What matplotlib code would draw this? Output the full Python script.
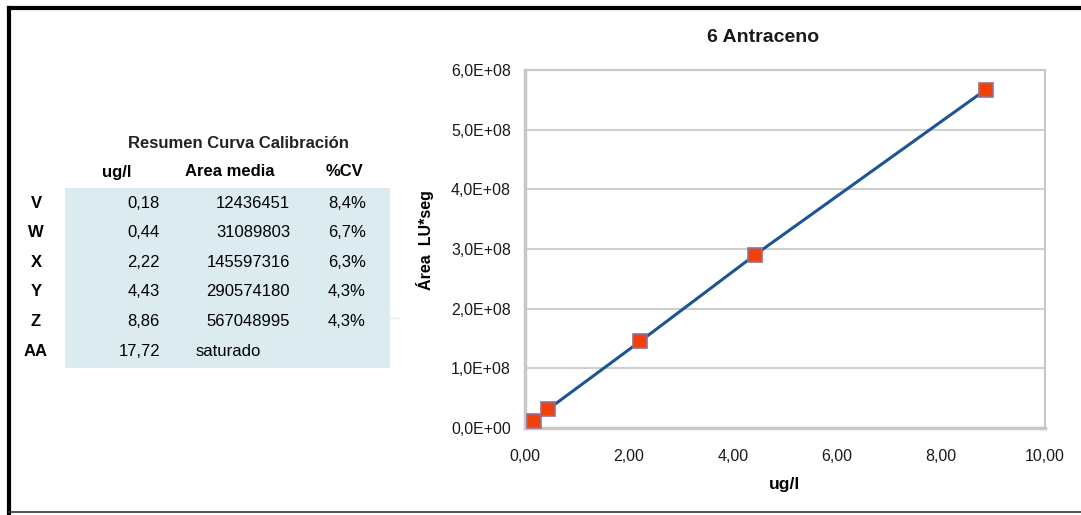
import matplotlib.pyplot as plt
from matplotlib.lines import Line2D
from matplotlib.patches import Rectangle
from matplotlib.ticker import FuncFormatter

plt.rcParams['font.family'] = ['Liberation Sans', 'DejaVu Sans']

# Resumen de la curva de calibracion
niveles = ['V', 'W', 'X', 'Y', 'Z', 'AA']
conc = [0.18, 0.44, 2.22, 4.43, 8.86, 17.72]
area_media = [12436451, 31089803, 145597316, 290574180, 567048995, None]
cv = ['8,4%', '6,7%', '6,3%', '4,3%', '4,3%', '']

x_ticks = [0, 2, 4, 6, 8, 10]
y_ticks = [0, 1e8, 2e8, 3e8, 4e8, 5e8, 6e8]

W, H = 1081, 515
def fx(px):
    return px / W
def fy(py):
    return 1 - py / H

fig = plt.figure(figsize=(10.81, 5.15), dpi=100)

# marco exterior
fig.add_artist(Line2D([fx(9), 1], [fy(8), fy(8)], color='black', lw=3))
fig.add_artist(Line2D([fx(9), fx(9)], [0, fy(8)], color='black', lw=3))
fig.add_artist(Line2D([fx(9), 1], [fy(512), fy(512)], color='#333333', lw=1.2))

# tabla resumen
fig.add_artist(Rectangle((fx(65), fy(368)), fx(390) - fx(65), fy(188) - fy(368),
                         facecolor='#dbebf0', edgecolor='none'))
fig.add_artist(Line2D([fx(390), fx(398)], [fy(318), fy(318)], color='#dbebf0', lw=1))
fig.text(fx(238), fy(144), 'Resumen Curva Calibración', ha='center', va='center',
         fontsize=12, fontweight='bold', color='#222222')
fig.text(fx(117), fy(172), 'ug/l', ha='center', va='center', fontsize=12, fontweight='bold')
fig.text(fx(230), fy(172), 'Area media', ha='center', va='center', fontsize=12, fontweight='bold')
fig.text(fx(345), fy(172), '%CV', ha='center', va='center', fontsize=12, fontweight='bold')

for i, nivel in enumerate(niveles):
    yy = fy(203 + i * 29.6)
    fig.text(fx(36), yy, nivel, ha='center', va='center', fontsize=12, fontweight='bold')
    fig.text(fx(160), yy, f'{conc[i]:.2f}'.replace('.', ','), ha='right', va='center', fontsize=12)
    if area_media[i] is None:
        fig.text(fx(196), yy, 'saturado', ha='left', va='center', fontsize=12)
    else:
        fig.text(fx(290), yy, f'{area_media[i]}', ha='right', va='center', fontsize=12)
    fig.text(fx(366), yy, cv[i], ha='right', va='center', fontsize=12)

# grafico de calibracion
ax = fig.add_axes([fx(525), fy(428), fx(1045) - fx(525), fy(70) - fy(428)])
xs = conc[:5]
ys = area_media[:5]
ax.plot(xs, ys, color='#1c5592', lw=2.2, zorder=2)
ax.plot(xs, ys, 's', markersize=9.5, markerfacecolor='#f0400c',
        markeredgecolor='#9c6c94', markeredgewidth=1.2, ls='none', zorder=3, clip_on=False)

ax.set_xlim(0, 10)
ax.set_ylim(0, 6e8)
ax.set_xticks(x_ticks)
ax.set_yticks(y_ticks)
ax.xaxis.set_major_formatter(FuncFormatter(lambda v, p: f'{v:.2f}'.replace('.', ',')))
ax.yaxis.set_major_formatter(FuncFormatter(
    lambda v, p: f'{v:.1E}'.replace('.', ',') if v else '0,0E+00'))
ax.tick_params(length=0, labelsize=11.5, colors='#1a1a1a')
ax.tick_params(axis='x', pad=15)
ax.tick_params(axis='y', pad=10)
ax.grid(axis='y', color='#cfcfcf', lw=1.5)
ax.set_axisbelow(True)
for s in ax.spines.values():
    s.set_color('#c8c8c8')
    s.set_linewidth(1.5)
ax.spines['bottom'].set_linewidth(2.5)
ax.spines['left'].set_linewidth(2.5)

fig.text(fx(763), fy(38), '6 Antraceno', ha='center', va='center',
         fontsize=14, fontweight='bold', color='#1a1a1a')
fig.text(fx(785), fy(484), 'ug/l', ha='center', va='center', fontsize=12.5, fontweight='bold')
fig.text(fx(425), fy(240), 'Área  LU*seg', ha='center', va='center', rotation=90,
         fontsize=11.5, fontweight='bold')

fig.savefig('out.png', dpi=100)
